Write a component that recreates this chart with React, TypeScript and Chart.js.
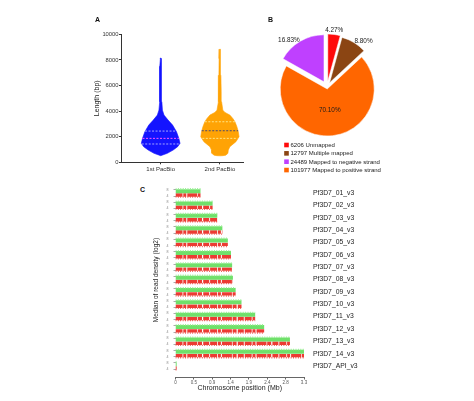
import React, { useEffect, useRef } from "react";
import { Chart, registerables } from "chart.js";

Chart.register(...registerables);

const FONT = '"Liberation Sans", Arial, Helvetica, sans-serif';

/* ---------------- Panel A : read length violins ---------------- */
const PACBIO_RUNS = ["1st PacBio", "2nd PacBio"];
const LENGTH_TICKS = [0, 2000, 4000, 6000, 8000, 10000];
const LENGTH_TICK_LABELS = ["0", "2000", "4000", "6000", "8000", "10000"];

// length (bp) levels and relative density (0..1) of each violin
const RUN1_LEVELS = [517, 699, 959, 1220, 1480, 1870, 2385, 2907, 3297, 3687, 4076, 4726, 5505, 6200, 6805, 7500, 8104, 8150];
const RUN1_DENSITY = [0, 0.34, 0.64, 0.87, 0.99, 0.93, 0.81, 0.61, 0.38, 0.17, 0.09, 0.06, 0.045, 0.05, 0.04, 0.045, 0.03, 0];
const RUN2_LEVELS = [505, 517, 560, 699, 959, 1218, 1608, 1998, 2388, 2777, 3167, 3427, 3687, 3895, 4076, 4726, 5505, 6805, 8104, 8831];
const RUN2_DENSITY = [0, 0.15, 0.3, 0.41, 0.43, 0.51, 0.82, 0.98, 0.94, 0.87, 0.77, 0.66, 0.51, 0.26, 0.15, 0.087, 0.066, 0.05, 0.04, 0.015];

// quartiles [Q1, median, Q3] and density at each quartile
const RUN1_QUARTILES = [1430, 1870, 2440];
const RUN1_QUARTILE_DENSITY = [0.97, 0.93, 0.8];
const RUN2_QUARTILES = [1870, 2465, 3167];
const RUN2_QUARTILE_DENSITY = [0.9, 0.93, 0.77];

/* ---------------- Panel B : mapping pie ---------------- */
const READ_CLASSES = ["Unmapped", "Multiple mapped", "Mapped to negative strand", "Mapped to positive strand"];
const READ_COUNTS = [6206, 12797, 24489, 101977];
const PIE_ORDER = [0, 1, 3, 2]; // clockwise drawing order from 12 o'clock

/* ---------------- Panel C : chromosome read density ---------------- */
const CHROMOSOMES = [
  "Pf3D7_01_v3", "Pf3D7_02_v3", "Pf3D7_03_v3", "Pf3D7_04_v3", "Pf3D7_05_v3",
  "Pf3D7_06_v3", "Pf3D7_07_v3", "Pf3D7_08_v3", "Pf3D7_09_v3", "Pf3D7_10_v3",
  "Pf3D7_11_v3", "Pf3D7_12_v3", "Pf3D7_13_v3", "Pf3D7_14_v3", "Pf3D7_API_v3",
];
const CHROM_LENGTH_MB = [0.64, 0.95, 1.07, 1.2, 1.34, 1.42, 1.45, 1.47, 1.54, 1.69, 2.04, 2.27, 2.93, 3.29, 0.03];
const POSITION_TICKS = [0, 0.47, 0.94, 1.41, 1.88, 2.35, 2.82, 3.29];
const POSITION_TICK_LABELS = ["0", "0.5", "0.9", "1.4", "1.9", "2.4", "2.8", "3.3"];
const DENSITY_TICK_LABELS = ["8", "4"];

/* ---------------- styles ---------------- */
const BLUE = "#1414ff";
const ORANGE = "#ffa305";
const CLASS_COLORS = ["#ff0a0a", "#8b4513", "#bf40ff", "#ff6600"];
const EXPLODE = [6, 5, 6, 2];
const GREEN = "#6fe06a";
const GREEN_LIGHT = "#9cef97";
const RED = "#ec3b33";
const AXIS = "#333";
const VIOLIN_HALF = 0.33;

function violinPoints(center: number, levels: number[], density: number[]) {
  const right = levels.map((v, i) => ({ x: center + density[i] * VIOLIN_HALF, y: v }));
  const left = levels.map((v, i) => ({ x: center - density[i] * VIOLIN_HALF, y: v })).reverse();
  return [...right, ...left];
}

function quartileSets(center: number, q: number[], d: number[], colors: string[]) {
  return q.map((v, i) => ({
    data: [
      { x: center - d[i] * VIOLIN_HALF, y: v },
      { x: center + d[i] * VIOLIN_HALF, y: v },
    ],
    order: 1,
    borderColor: colors[i],
    borderWidth: 1,
    borderDash: [2, 1.5],
    pointRadius: 0,
    fill: false,
  }));
}

const noPad = (s: any) => {
  s.paddingTop = 0;
  s.paddingBottom = 0;
};

function configA(): any {
  const centers = PACBIO_RUNS.map((_, i) => i + 1);
  return {
    type: "line",
    data: {
      datasets: [
        { data: violinPoints(centers[0], RUN1_LEVELS, RUN1_DENSITY), order: 2, fill: "shape", backgroundColor: BLUE, borderColor: BLUE, borderWidth: 0.6, pointRadius: 0, tension: 0 },
        { data: violinPoints(centers[1], RUN2_LEVELS, RUN2_DENSITY), order: 2, fill: "shape", backgroundColor: ORANGE, borderColor: ORANGE, borderWidth: 0.6, pointRadius: 0, tension: 0 },
        ...quartileSets(centers[0], RUN1_QUARTILES, RUN1_QUARTILE_DENSITY, ["#a4a4ff", "#ff55ff", "#a4a4ff"]),
        ...quartileSets(centers[1], RUN2_QUARTILES, RUN2_QUARTILE_DENSITY, ["#ffe585", "#4b4b6e", "#ffe585"]),
      ],
    },
    options: {
      responsive: false,
      animation: false,
      events: [],
      layout: { padding: { top: 19.3, right: 7, left: 0, bottom: 0 } },
      plugins: { legend: { display: false }, tooltip: { enabled: false } },
      scales: {
        x: {
          type: "linear",
          min: 0.33,
          max: 2.39,
          afterFit: (s: any) => { s.height = 17.7; },
          afterBuildTicks: (s: any) => { s.ticks = centers.map((v) => ({ value: v })); },
          ticks: { autoSkip: false, maxRotation: 0, padding: 1, color: AXIS, font: { family: FONT, size: 6 }, callback: (_v: any, i: number) => PACBIO_RUNS[i] },
          grid: { drawOnChartArea: false, tickLength: 2, color: AXIS },
          border: { color: AXIS, width: 1 },
        },
        y: {
          type: "linear",
          min: 0,
          max: 10000,
          afterFit: (s: any) => { s.width = 51; noPad(s); },
          afterBuildTicks: (s: any) => { s.ticks = LENGTH_TICKS.map((v) => ({ value: v })); },
          ticks: { autoSkip: false, padding: 0.5, color: AXIS, font: { family: FONT, size: 5.8 }, callback: (_v: any, i: number) => LENGTH_TICK_LABELS[i] },
          title: { display: true, text: "Length (bp)", color: "#222", font: { family: FONT, size: 7 }, padding: { top: 23, bottom: 0 } },
          grid: { drawOnChartArea: false, tickLength: 2, color: AXIS },
          border: { color: AXIS, width: 1 },
        },
      },
    },
  };
}

const midAngle = (arc: any) => (arc.startAngle + arc.endAngle) / 2;

const explodePlugin = {
  id: "explode",
  beforeDatasetDraw(chart: any) {
    chart.getDatasetMeta(0).data.forEach((arc: any, i: number) => {
      const e = EXPLODE[PIE_ORDER[i]];
      const m = midAngle(arc);
      arc.$ox = arc.x;
      arc.$oy = arc.y;
      arc.x += Math.cos(m) * e;
      arc.y += Math.sin(m) * e;
    });
  },
  afterDatasetDraw(chart: any) {
    chart.getDatasetMeta(0).data.forEach((arc: any) => {
      arc.x = arc.$ox;
      arc.y = arc.$oy;
    });
  },
};

const pieLabelPlugin = {
  id: "pieLabels",
  afterDatasetsDraw(chart: any) {
    const ctx = chart.ctx;
    const data = chart.data.datasets[0].data as number[];
    const total = data.reduce((a, b) => a + b, 0);
    ctx.save();
    ctx.fillStyle = "#1a1a1a";
    ctx.font = `6.4px ${FONT}`;
    chart.getDatasetMeta(0).data.forEach((arc: any, i: number) => {
      const e = EXPLODE[PIE_ORDER[i]];
      const m = midAngle(arc);
      const cx = arc.x + Math.cos(m) * e;
      const cy = arc.y + Math.sin(m) * e;
      const R = arc.outerRadius;
      const frac = data[i] / total;
      const text = (frac * 100).toFixed(2) + "%";
      if (frac > 0.5) {
        ctx.textAlign = "center";
        ctx.textBaseline = "middle";
        ctx.fillText(text, cx + Math.cos(m) * R * 0.45, cy + Math.sin(m) * R * 0.45);
      } else {
        const px = cx + Math.cos(m) * (R + 1);
        const py = cy + Math.sin(m) * (R + 1);
        const c = Math.cos(m);
        if (Math.abs(c) < 0.3) {
          ctx.textAlign = "center";
          ctx.textBaseline = "bottom";
        } else {
          ctx.textAlign = c > 0 ? "left" : "right";
          ctx.textBaseline = "middle";
        }
        ctx.fillText(text, px, py);
      }
    });
    // legend (in class order)
    ctx.font = `6px ${FONT}`;
    ctx.textAlign = "left";
    ctx.textBaseline = "middle";
    READ_CLASSES.forEach((name, k) => {
      const y = 130 + k * 8.35;
      ctx.fillStyle = CLASS_COLORS[k];
      ctx.fillRect(34.2, y - 2.3, 4.6, 4.6);
      ctx.fillStyle = "#1a1a1a";
      ctx.fillText(`${READ_COUNTS[k]} ${name}`, 40.5, y + 0.3);
    });
    ctx.restore();
  },
};

function configB(): any {
  return {
    type: "pie",
    data: {
      labels: PIE_ORDER.map((k) => READ_CLASSES[k]),
      datasets: [
        {
          data: PIE_ORDER.map((k) => READ_COUNTS[k]),
          backgroundColor: PIE_ORDER.map((k) => CLASS_COLORS[k]),
          borderColor: "#fff",
          borderWidth: 0.5,
          radius: 47,
        },
      ],
    },
    options: {
      responsive: false,
      animation: false,
      events: [],
      radius: 47,
      layout: { padding: { top: 0, left: 0, right: 70, bottom: 21 } },
      plugins: { legend: { display: false }, tooltip: { enabled: false } },
    },
    plugins: [explodePlugin, pieLabelPlugin],
  };
}

function configC(): any {
  const N = CHROMOSOMES.length;
  const rows = CHROMOSOMES.map((_, i) => N - i);
  const common = { pointRadius: 0, fill: false, tension: 0, borderCapStyle: "butt" };
  const datasets: any[] = [];
  CHROM_LENGTH_MB.forEach((len, i) => {
    const r = rows[i];
    const seg = (dy: number) => [{ x: 0, y: r + dy }, { x: len, y: r + dy }];
    datasets.push({ ...common, data: seg(0.33), borderColor: GREEN_LIGHT, borderWidth: 1.6, borderDash: [1, 1.4] });
    datasets.push({ ...common, data: seg(0.15), borderColor: GREEN, borderWidth: 4 });
    datasets.push({ ...common, data: seg(-0.16), borderColor: RED, borderWidth: 3.4, borderDash: [7, 0.8, 3, 1, 10, 0.7, 4, 1.2, 6, 0.9] });
    datasets.push({ ...common, data: seg(-0.33), borderColor: RED, borderWidth: 1.4, borderDash: [0.8, 1.6] });
  });
  const yMin = 0.11;
  const yMax = 15.8;
  return {
    type: "line",
    data: { datasets },
    options: {
      responsive: false,
      animation: false,
      events: [],
      layout: { padding: { top: 3.1, right: 0, left: 0, bottom: 0 } },
      plugins: { legend: { display: false }, tooltip: { enabled: false } },
      scales: {
        x: {
          type: "linear",
          min: 0,
          max: 3.29,
          afterFit: (s: any) => { s.height = 24; },
          afterBuildTicks: (s: any) => { s.ticks = POSITION_TICKS.map((v) => ({ value: v })); },
          ticks: { autoSkip: false, maxRotation: 0, padding: 1, color: "#555", font: { family: FONT, size: 4.5 }, callback: (_v: any, i: number) => POSITION_TICK_LABELS[i] },
          title: { display: true, text: "Chromosome position (Mb)", color: "#222", font: { family: FONT, size: 7 }, padding: { top: 0, bottom: 8.8 } },
          grid: { drawOnChartArea: false, tickLength: 2.5, color: "#666" },
          border: { color: "#666", width: 1 },
        },
        y: {
          type: "linear",
          position: "left",
          min: yMin,
          max: yMax,
          afterFit: (s: any) => { s.width = 27.5; noPad(s); },
          afterBuildTicks: (s: any) => { s.ticks = rows.flatMap((r) => [{ value: r + 0.25 }, { value: r - 0.25 }]); },
          ticks: { autoSkip: false, padding: 5, color: "#888", font: { family: FONT, size: 3.6 }, callback: (_v: any, i: number) => DENSITY_TICK_LABELS[i % 2] },
          title: { display: true, text: "Median of read density (log2)", color: "#222", font: { family: FONT, size: 6.5 }, padding: { top: 4, bottom: 0 } },
          grid: { drawOnChartArea: false, tickLength: 2, color: "#aaa" },
          border: { display: false },
        },
        yr: {
          type: "linear",
          position: "right",
          min: yMin,
          max: yMax,
          afterFit: (s: any) => { s.width = 170; noPad(s); },
          afterBuildTicks: (s: any) => { s.ticks = rows.map((r) => ({ value: r })); },
          ticks: { autoSkip: false, padding: 9, color: "#222", font: { family: FONT, size: 6.8 }, callback: (_v: any, i: number) => CHROMOSOMES[i] },
          grid: { display: false, drawTicks: false },
          border: { display: false },
        },
      },
    },
  };
}

const letter = (left: number, top: number): React.CSSProperties => ({
  position: "absolute",
  left,
  top,
  fontFamily: FONT,
  fontWeight: "bold",
  fontSize: 7,
  lineHeight: "8px",
  color: "#111",
});

export default function App() {
  const aRef = useRef<HTMLCanvasElement>(null);
  const bRef = useRef<HTMLCanvasElement>(null);
  const cRef = useRef<HTMLCanvasElement>(null);

  useEffect(() => {
    const charts = [
      new Chart(aRef.current!, configA()),
      new Chart(bRef.current!, configB()),
      new Chart(cRef.current!, configC()),
    ];
    return () => charts.forEach((c) => c.destroy());
  }, []);

  return (
    <div style={{ position: "fixed", left: 0, top: 0, width: 474, height: 401, background: "#fff", overflow: "hidden" }}>
      <canvas ref={aRef} width={180} height={165} style={{ position: "absolute", left: 70, top: 15, display: "block" }} />
      <canvas ref={bRef} width={224} height={165} style={{ position: "absolute", left: 250, top: 15, display: "block" }} />
      <canvas ref={cRef} width={326} height={221} style={{ position: "absolute", left: 148, top: 180, display: "block" }} />
      <div style={letter(95, 16)}>A</div>
      <div style={letter(268, 16)}>B</div>
      <div style={letter(140, 186)}>C</div>
    </div>
  );
}
